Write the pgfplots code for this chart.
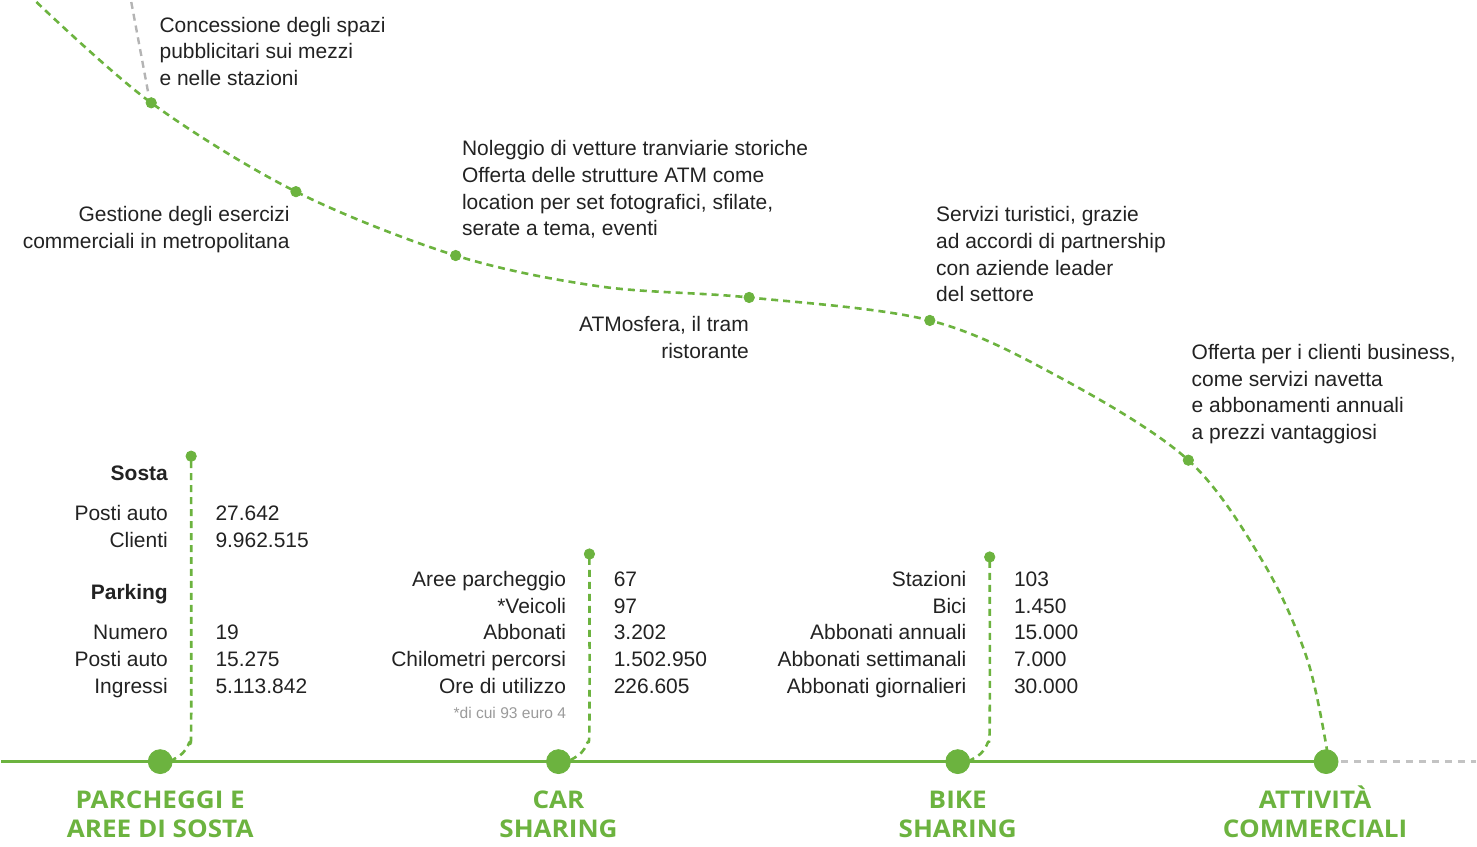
\documentclass[border=0pt]{standalone}
\usepackage{pgfplots}
\pgfplotsset{compat=1.18}
\usepackage{fontspec}
\setmainfont{Liberation Sans}
\newfontfamily\hdfont{Open Sans}[FakeStretch=1.07]
\definecolor{atmgreen}{HTML}{6CB33F}
\definecolor{txt}{HTML}{222222}
\definecolor{lgrey}{HTML}{B4B4B4}
\definecolor{notegrey}{HTML}{9A9A9A}
\tikzset{T/.style={inner sep=0pt, text=txt, font=\fontsize{10.5}{13}\selectfont},
  L/.style={T, anchor=base west}, R/.style={T, anchor=base east},
  B/.style={R, font=\bfseries\fontsize{10.5}{13}\selectfont},
  H/.style={anchor=base, inner sep=0pt, font=\hdfont\bfseries\fontsize{12.2}{14}\selectfont, text=atmgreen}}
\begin{document}
\begin{tikzpicture}
\begin{axis}[scale only axis, width=738.5pt, height=424pt,
  xmin=0, xmax=1477, ymin=0, ymax=848, y dir=reverse,
  hide axis, clip=false]
\draw[draw=none] (rel axis cs:0,0) rectangle (rel axis cs:1,1);
% grey dashed lines
\addplot[lgrey, line width=1.2pt, dash pattern=on 3.5pt off 2.5pt] coordinates {(130,2) (147,93)};
\addplot[lgrey!80, line width=1.2pt, dash pattern=on 3.5pt off 3pt] coordinates {(1342,763) (1477,763)};
% main curve
\addplot[atmgreen, line width=1.3pt, dash pattern=on 3.5pt off 2.5pt, smooth, tension=0.55] coordinates {
 (35,2) (150,103) (295,192) (455,256) (600,287) (749,298) (930,321) (1060,378) (1189,461) (1265,565) (1308,660) (1328,752)};
% baseline
\addplot[atmgreen, line width=1.5pt] coordinates {(0,763) (1327,763)};
% vertical connectors
\addplot[atmgreen, line width=1.3pt, dash pattern=on 3.5pt off 2.5pt, smooth] coordinates {(190,462) (190,726) (188,744) (181,755) (170,762)};
\addplot[atmgreen, line width=1.3pt, dash pattern=on 3.5pt off 2.5pt, smooth] coordinates {(589,559) (589,726) (587,744) (580,755) (569,762)};
\addplot[atmgreen, line width=1.3pt, dash pattern=on 3.5pt off 2.5pt, smooth] coordinates {(990,562) (990,726) (988,744) (981,755) (970,762)};
% small dots
\addplot[only marks, mark=*, mark size=2.6pt, atmgreen, mark options={draw=atmgreen, fill=atmgreen}] coordinates {
 (150,103) (295,192) (455,256) (749,298) (930,321) (1189,461) (190,457) (589,555) (990,558)};
% big dots
\addplot[only marks, mark=*, mark size=6pt, atmgreen, mark options={draw=atmgreen, fill=atmgreen}] coordinates {
 (159,763) (558,763) (958,763) (1327,763)};

% curve texts
\node[L] at (158,33) {Concessione degli spazi};
\node[L] at (158,59) {pubblicitari sui mezzi};
\node[L] at (158,86) {e nelle stazioni};
\node[R] at (289,222) {Gestione degli esercizi};
\node[R] at (289,249) {commerciali in metropolitana};
\node[L] at (461,156) {Noleggio di vetture tranviarie storiche};
\node[L] at (461,183) {Offerta delle strutture ATM come};
\node[L] at (461,210) {location per set fotografici, sfilate,};
\node[L] at (461,236) {serate a tema, eventi};
\node[R] at (749,332) {ATMosfera, il tram};
\node[R] at (749,359) {ristorante};
\node[L] at (936,222) {Servizi turistici, grazie};
\node[L] at (936,249) {ad accordi di partnership};
\node[L] at (936,276) {con aziende leader};
\node[L] at (936,302) {del settore};
\node[L] at (1192,360) {Offerta per i clienti business,};
\node[L] at (1192,387) {come servizi navetta};
\node[L] at (1192,413) {e abbonamenti annuali};
\node[L] at (1192,440) {a prezzi vantaggiosi};

% Sosta block
\node[B] at (167,481) {Sosta};
\node[R] at (167,521) {Posti auto}; \node[L] at (214,521) {27.642};
\node[R] at (167,548) {Clienti};    \node[L] at (214,548) {9.962.515};
\node[B] at (167,601) {Parking};
\node[R] at (167,641) {Numero};     \node[L] at (214,641) {19};
\node[R] at (167,668) {Posti auto}; \node[L] at (214,668) {15.275};
\node[R] at (167,695) {Ingressi};   \node[L] at (214,695) {5.113.842};

% Car sharing block
\node[R] at (566,588) {Aree parcheggio};     \node[L] at (613,588) {67};
\node[R] at (566,615) {*Veicoli};            \node[L] at (613,615) {97};
\node[R] at (566,641) {Abbonati};            \node[L] at (613,641) {3.202};
\node[R] at (566,668) {Chilometri percorsi}; \node[L] at (613,668) {1.502.950};
\node[R] at (566,695) {Ore di utilizzo};     \node[L] at (613,695) {226.605};
\node[R, font=\fontsize{7.8}{9}\selectfont, text=notegrey] at (566,720) {*di cui 93 euro 4};

% Bike sharing block
\node[R] at (967,588) {Stazioni};             \node[L] at (1014,588) {103};
\node[R] at (967,615) {Bici};                 \node[L] at (1014,615) {1.450};
\node[R] at (967,641) {Abbonati annuali};     \node[L] at (1014,641) {15.000};
\node[R] at (967,668) {Abbonati settimanali}; \node[L] at (1014,668) {7.000};
\node[R] at (967,695) {Abbonati giornalieri}; \node[L] at (1014,695) {30.000};

% headers
\node[H] at (159,810) {PARCHEGGI E};
\node[H] at (159,839) {AREE DI SOSTA};
\node[H] at (558,810) {CAR};
\node[H] at (558,839) {SHARING};
\node[H] at (958,810) {BIKE};
\node[H] at (958,839) {SHARING};
\node[H] at (1316,810) {ATTIVITÀ};
\node[H] at (1316,839) {COMMERCIALI};
\end{axis}
\end{tikzpicture}
\end{document}
